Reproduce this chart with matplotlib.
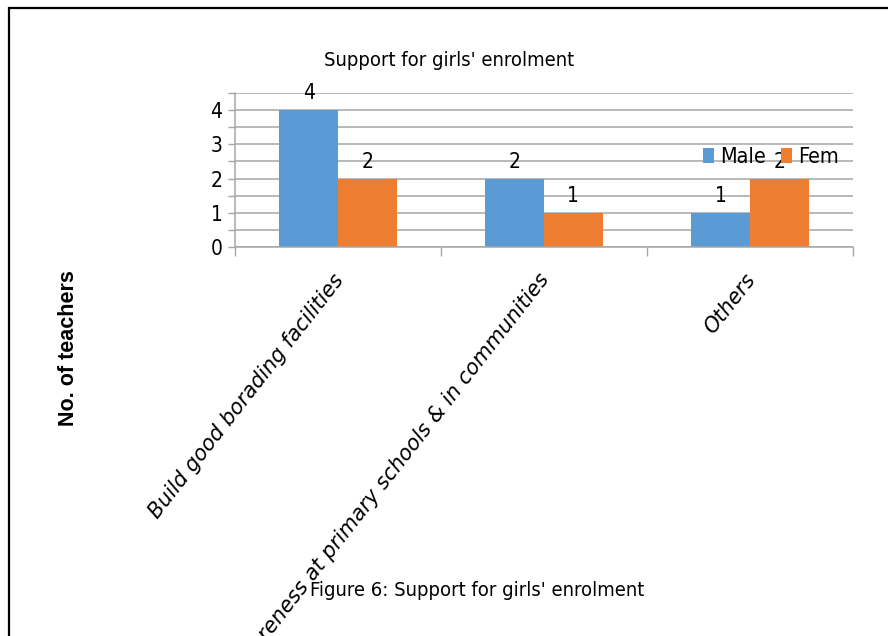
import matplotlib
matplotlib.use('Agg')
import matplotlib.pyplot as plt
import numpy as np
from matplotlib.patches import Rectangle

# data
categories = ["Build good borading facilities",
              "Create awareness at primary schools & in communities",
              "Others"]
male = [4, 2, 1]
female = [2, 1, 2]
series_names = ["Male", "Fem"]

BLUE = '#5B9BD5'
ORANGE = '#ED7D31'
GRID = '#a6a6a6'

plt.rcParams['font.family'] = ['DejaVu Sans']
plt.rcParams['font.stretch'] = 'condensed'

fig = plt.figure(figsize=(8.88, 6.36), dpi=100)
ax = fig.add_axes([235 / 888, 1 - 247 / 636, 618 / 888, 154 / 636])

x = np.arange(len(categories))
w = 1 / 3.5  # excel-style gap width of 150%
b1 = ax.bar(x - w / 2, male, w, color=BLUE, label=series_names[0], zorder=2)
b2 = ax.bar(x + w / 2, female, w, color=ORANGE, label=series_names[1], zorder=2)

# value labels above bars
for bars, vals in ((b1, male), (b2, female)):
    for rect, v in zip(bars, vals):
        ax.annotate(str(v), (rect.get_x() + rect.get_width() / 2, v),
                    xytext=(0, 11), textcoords='offset pixels',
                    ha='center', va='baseline', fontsize=15, zorder=3)

ax.set_xlim(-0.5, len(categories) - 0.5)
ax.set_ylim(0, 4.5)
yt = np.arange(0, 4.51, 0.5)
ax.set_yticks(yt)
ax.set_yticklabels([str(int(t)) if t == int(t) and t < 4.5 else '' for t in yt])
ax.yaxis.grid(True, color=GRID, linewidth=1.1, zorder=0)
ax.set_axisbelow(True)
ax.tick_params(axis='y', length=5, width=1, color=GRID, labelsize=15, pad=4)

ax.set_xticks(np.arange(-0.5, len(categories), 1.0))
ax.set_xticklabels([])
ax.tick_params(axis='x', length=6.5, width=1, color=GRID)

for side in ('top', 'right'):
    ax.spines[side].set_visible(False)
for side in ('left', 'bottom'):
    ax.spines[side].set_color(GRID)
    ax.spines[side].set_linewidth(1.1)

# rotated category labels
for i, cat in enumerate(categories):
    ax.annotate(cat, (i, 0), xycoords=('data', 'axes fraction'),
                xytext=(-6, -23), textcoords='offset pixels',
                rotation=52, rotation_mode='anchor', ha='right', va='top',
                fontsize=15, fontstretch='normal', style='italic',
                annotation_clip=False)

fig.text(449 / 888, 1 - 60 / 636, "Support for girls' enrolment",
         ha='center', va='center', fontsize=14.5)

fig.text(68 / 888, 1 - 348 / 636, "No. of teachers", rotation=90,
         ha='center', va='center', fontsize=15.5, fontweight='bold',
         family='Liberation Sans', fontstretch='normal')

fig.legend(loc='center', bbox_to_anchor=(771 / 888, 1 - 157 / 636),
           ncol=2, frameon=False, fontsize=15.5, handlelength=0.5,
           handleheight=0.65, handletextpad=0.3, columnspacing=0.7,
           borderpad=0, borderaxespad=0)

fig.text(477 / 888, 1 - 591 / 636, "Figure 6: Support for girls' enrolment",
         ha='center', va='center', fontsize=14.5)

# page frame around the chart
fig.patches.append(Rectangle((8.5 / 888, -0.2), 1.2, 1.2 - 7.5 / 636,
                             transform=fig.transFigure, fill=False,
                             edgecolor='black', linewidth=1.6))

fig.savefig('out.png', dpi=100)
